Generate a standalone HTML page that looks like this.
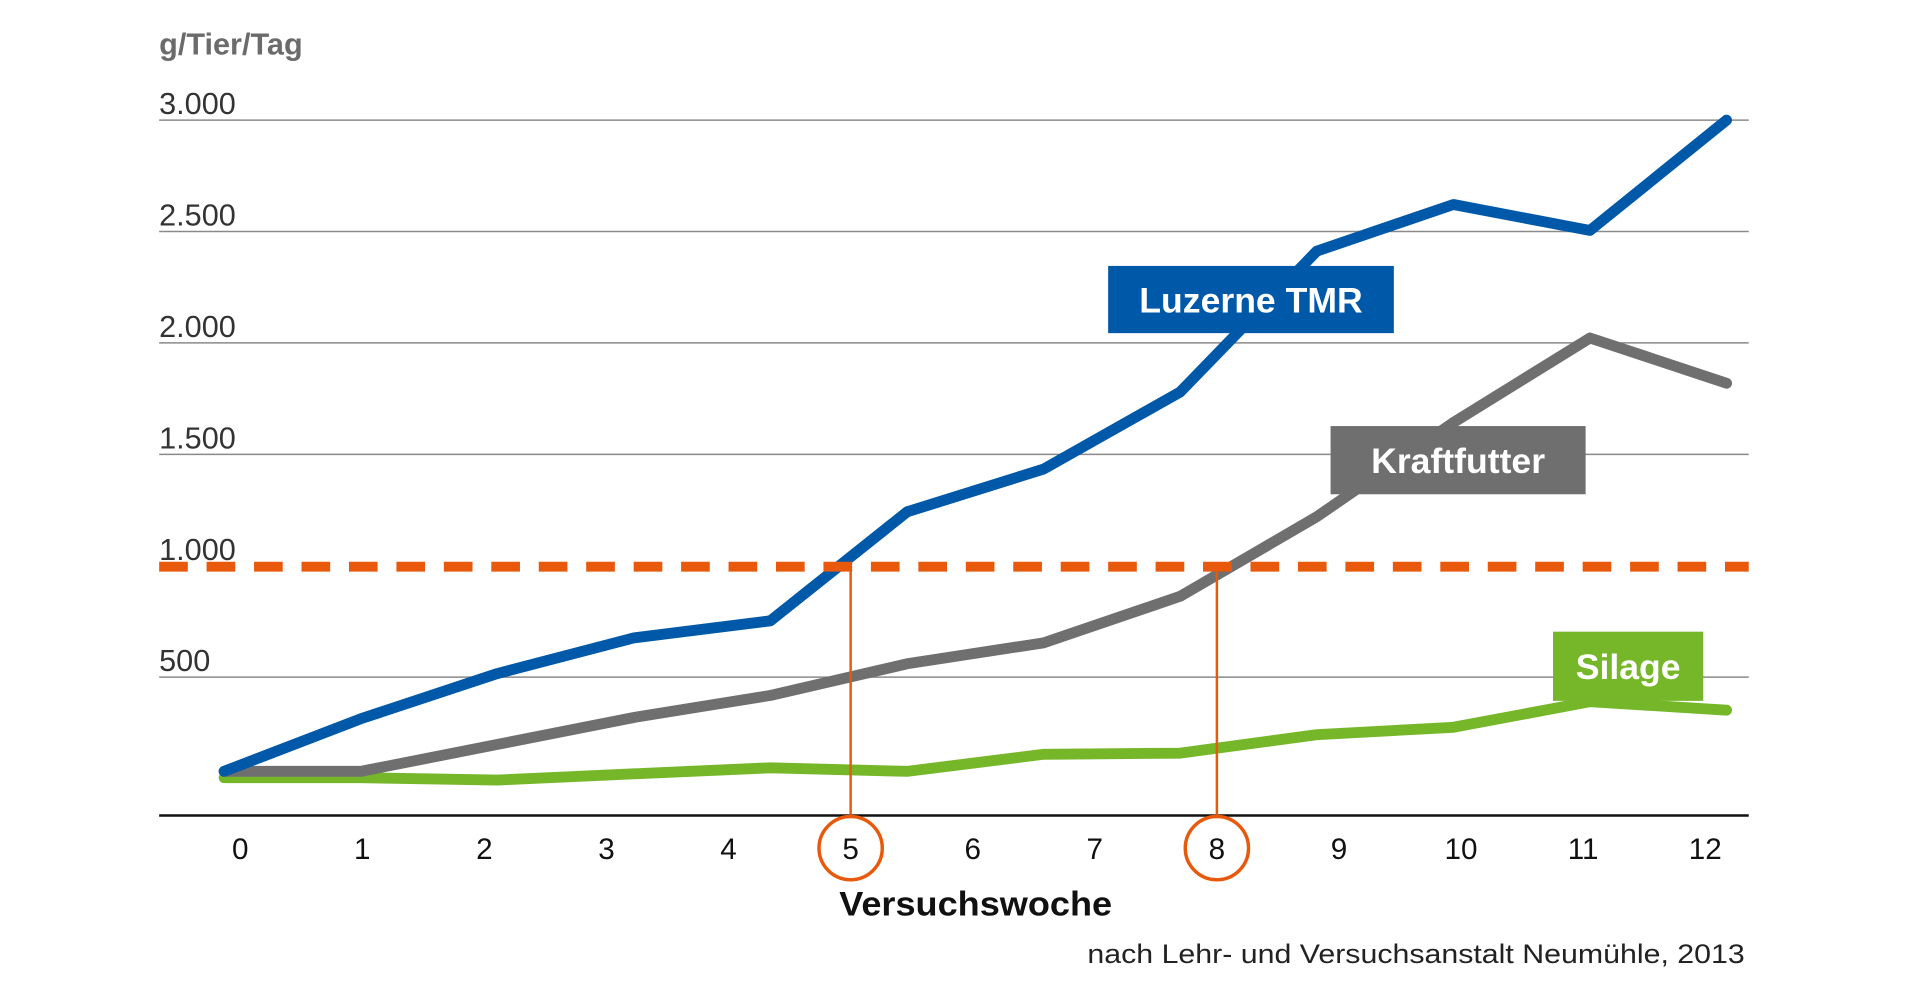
<!DOCTYPE html>
<html><head><meta charset="utf-8"><style>
html,body{margin:0;padding:0;background:#fff;width:1920px;height:994px;overflow:hidden}
svg{display:block;font-family:"Liberation Sans",sans-serif}
</style></head><body>
<svg id="chart" width="1920" height="994" viewBox="0 0 1920 994"><g id="root" transform="scale(0.98854)"></g></svg>
<script>
const weeks = ["0","1","2","3","4","5","6","7","8","9","10","11","12"];
const yTicks = [500, 1000, 1500, 2000, 2500, 3000];
const yTickLabels = ["500","1.000","1.500","2.000","2.500","3.000"];
const luzerne = [77, 313, 516, 676, 753, 1242, 1434, 1780, 2412, 2621, 2505, 3000];
const kraftfutter = [77, 77, 198, 319, 418, 560, 654, 863, 1220, 1643, 2022, 1819];
const silage = [49, 49, 38, 66, 93, 77, 154, 159, 242, 275, 390, 352];
const threshold = 1000;
const markedWeeks = [5, 8];

const NS = "http://www.w3.org/2000/svg";
const svg = document.getElementById("root");
function el(tag, attrs, parent){
  const e = document.createElementNS(NS, tag);
  for (const k in attrs) e.setAttribute(k, attrs[k]);
  (parent||svg).appendChild(e);
  return e;
}
const yScale = v => 797.7 - v * (112.7/500);
function xd(i){ return 226.7 + i * (1519.9 / (luzerne.length - 1)); }
function xl(i){ return 243 + i * 123.5; }

const t = el("text",{x:161,y:55,"font-size":31,"font-weight":"bold",fill:"#6b6b6b"});


t.textContent = "g/Tier/Tag";

yTicks.forEach((v,i)=>{
  if (v !== threshold) {
    const g = el("line",{x1:161,x2:1769,y1:yScale(v),y2:yScale(v),stroke:"#8a8a8a","stroke-width":1.5});
    
    
  }
  const tx = el("text",{x:161,y:yScale(v)-6,"font-size":31,fill:"#333"});
  
  
  tx.textContent = yTickLabels[i];
});
const ax = el("line",{x1:161,x2:1769,y1:825,y2:825,stroke:"#111","stroke-width":2.5});


weeks.forEach((w,i)=>{
  const tx = el("text",{x:xl(i),y:869,"font-size":30,fill:"#111","text-anchor":"middle"});
  
  
  tx.textContent = w;
});

function series(vals, color, name){
  const pts = vals.map((v,i)=>xd(i).toFixed(1)+","+yScale(v).toFixed(1)).join(" ");
  const p = el("polyline",{points:pts,fill:"none",stroke:color,"stroke-width":11,"stroke-linejoin":"round","stroke-linecap":"round"});
  
  
}
series(silage,"#76b72a","silage-line");
series(kraftfutter,"#6f6f6f","kraftfutter-line");
series(luzerne,"#0059a8","luzerne-tmr-line");

const th = el("line",{x1:161,x2:1769,y1:yScale(threshold)+1,y2:yScale(threshold)+1,stroke:"#e8590c","stroke-width":10,"stroke-dasharray":"29 19"});



markedWeeks.forEach(w=>{
  const x = xl(w);
  const vl = el("line",{x1:x,x2:x,y1:yScale(threshold),y2:826,stroke:"#e8590c","stroke-width":2.5});
  
  
  const c = el("circle",{cx:x,cy:858,r:32,fill:"none",stroke:"#e8590c","stroke-width":3.5});
  
  
});

function box(x,y,w,h,color,label,name){
  const r = el("rect",{x:x,y:y,width:w,height:h,fill:color});
  
  
  const tx = el("text",{x:x+w/2,y:y+h/2+13,"font-size":36,"font-weight":"bold",fill:"#fff","text-anchor":"middle"});
  
  
  tx.textContent = label;
}
box(1121,269,289,68,"#0059a8","Luzerne TMR","legend-luzerne-tmr");
box(1346,431,258,69,"#6f6f6f","Kraftfutter","legend-kraftfutter");
box(1571,639,152,70,"#76b72a","Silage","legend-silage");

const xt = el("text",{x:987,y:926,"font-size":35,"font-weight":"bold",fill:"#111","text-anchor":"middle",textLength:276,lengthAdjust:"spacingAndGlyphs"});


xt.textContent = "Versuchswoche";

const src = el("text",{x:1765,y:974,"font-size":27,fill:"#222","text-anchor":"end",textLength:665,lengthAdjust:"spacingAndGlyphs"});


src.textContent = "nach Lehr- und Versuchsanstalt Neumühle, 2013";
</script>
</body></html>
